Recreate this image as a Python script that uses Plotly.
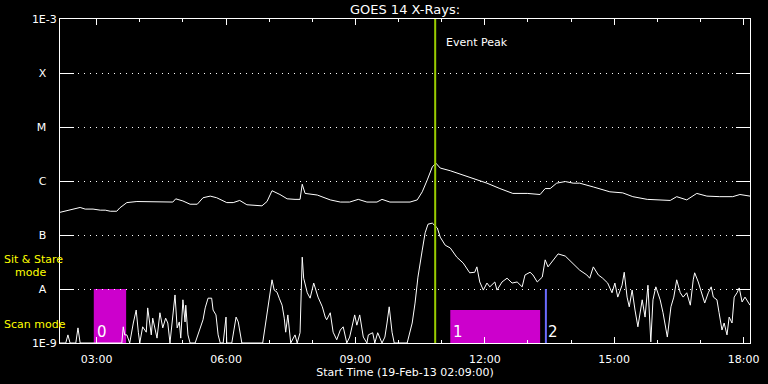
import pandas as pd
import plotly.graph_objects as go

# ---------------- data ----------------
start_time = "2013-02-19 02:09:00"
end_time = "2013-02-19 18:09:00"

# GOES-14 long channel (1-8 A), minutes after start, log10 flux (W/m^2)
long_min = [0, 11, 28, 35, 46, 56, 63, 70, 79, 83, 93, 107, 125, 139, 157, 161, 171, 181, 191, 199,
            209, 218, 232, 241, 250, 260, 271, 281, 288, 295, 306, 316, 327, 334, 337, 341, 358, 376, 390, 403,
            415, 427, 441, 448, 459, 473, 487, 497, 504, 511, 518, 523, 529, 543, 561, 580, 594, 612, 630, 650,
            668, 675, 682, 691, 703, 714, 723, 742, 765, 783, 797, 817, 835, 849, 858, 872, 886, 900, 918, 936,
            946, 960]
long_log = [-6.58, -6.55, -6.49, -6.52, -6.52, -6.54, -6.54, -6.56, -6.56, -6.50, -6.40, -6.38, -6.38, -6.39,
            -6.39, -6.33, -6.37, -6.43, -6.43, -6.31, -6.28, -6.31, -6.40, -6.40, -6.36, -6.44, -6.45, -6.46,
            -6.38, -6.18, -6.25, -6.33, -6.34, -6.34, -6.06, -6.23, -6.26, -6.35, -6.39, -6.39, -6.34, -6.39,
            -6.39, -6.34, -6.39, -6.39, -6.39, -6.35, -6.20, -5.98, -5.74, -5.67, -5.76, -5.81, -5.89, -5.97,
            -6.04, -6.14, -6.23, -6.23, -6.25, -6.14, -6.14, -6.04, -6.01, -6.04, -6.04, -6.11, -6.20, -6.22,
            -6.29, -6.34, -6.35, -6.36, -6.29, -6.35, -6.23, -6.28, -6.29, -6.29, -6.25, -6.28]

# GOES-14 short channel (0.5-4 A), minutes after start, log10 flux (W/m^2)
short_min = [0, 8, 11, 14, 22, 25, 28, 86, 88, 90, 93, 97, 102, 106, 109, 111, 115, 120, 122, 127,
             129, 135, 139, 143, 147, 150, 153, 157, 160, 163, 166, 168, 171, 174, 175, 178, 181, 188, 195, 199,
             202, 206, 211, 213, 217, 220, 223, 227, 231, 232, 239, 245, 248, 253, 282, 288, 291, 295, 298, 302,
             305, 309, 312, 314, 317, 321, 327, 330, 334, 337, 339, 344, 348, 353, 359, 365, 369, 371, 376, 380,
             385, 390, 394, 399, 403, 410, 413, 417, 422, 427, 429, 435, 438, 442, 448, 452, 455, 458, 462, 465,
             483, 484, 490, 494, 498, 504, 508, 512, 518, 525, 529, 536, 543, 552, 561, 570, 577, 580, 584, 589,
             594, 598, 605, 608, 615, 622, 629, 636, 643, 647, 654, 658, 664, 671, 675, 679, 686, 693, 703, 712,
             719, 723, 733, 737, 742, 749, 755, 762, 768, 772, 776, 782, 785, 789, 792, 796, 800, 804, 810, 814,
             818, 822, 825, 829, 835, 839, 845, 850, 854, 858, 863, 867, 872, 877, 881, 883, 888, 893, 897, 902,
             906, 909, 914, 917, 921, 924, 928, 931, 935, 938, 942, 945, 949, 953, 960]
short_log = [-9.0, -9.0, -8.85, -9.0, -9.0, -8.72, -9.0, -9.0, -8.70, -8.85, -8.85, -9.0, -8.63, -8.39, -8.80,
             -9.0, -8.70, -8.80, -8.35, -8.85, -8.54, -8.91, -8.44, -8.72, -8.54, -8.63, -9.0, -8.44, -8.11,
             -8.72, -8.61, -8.91, -8.20, -8.61, -8.30, -8.85, -9.0, -9.0, -8.72, -8.57, -8.35, -8.17, -8.17,
             -8.39, -8.48, -8.85, -9.0, -9.0, -8.52, -9.0, -9.0, -8.52, -8.61, -9.0, -9.0, -8.43, -8.11, -7.83,
             -8.02, -8.06, -8.17, -8.30, -8.54, -8.80, -8.48, -9.0, -8.85, -9.0, -8.81, -7.41, -7.80, -8.07,
             -8.17, -7.89, -8.15, -8.33, -8.52, -8.57, -8.44, -8.80, -8.94, -8.76, -8.70, -9.0, -8.89, -8.48,
             -8.67, -8.48, -8.89, -9.0, -8.85, -8.81, -9.0, -8.81, -9.0, -8.89, -8.63, -8.33, -8.80, -9.0,
             -9.0, -8.94, -8.63, -8.26, -7.78, -7.28, -6.96, -6.80, -6.78, -6.87, -7.04, -7.19, -7.24, -7.41,
             -7.52, -7.70, -7.69, -7.59, -7.87, -8.02, -7.89, -7.96, -7.87, -8.02, -7.87, -7.80, -7.89, -7.87,
             -7.96, -7.74, -7.69, -7.74, -7.87, -7.78, -7.46, -7.59, -7.46, -7.35, -7.39, -7.50, -7.59, -7.65,
             -7.74, -7.80, -7.59, -7.74, -7.80, -7.89, -8.07, -7.89, -8.15, -7.93, -7.69, -8.15, -8.33, -8.02,
             -8.39, -8.70, -8.20, -8.52, -7.93, -8.98, -8.20, -7.96, -8.20, -8.44, -8.89, -8.33, -8.15, -7.83,
             -8.07, -8.15, -8.07, -8.30, -7.83, -7.70, -7.87, -8.07, -8.26, -8.07, -7.96, -8.15, -8.20, -8.44,
             -8.76, -8.63, -8.85, -8.52, -8.63, -8.15, -8.07, -7.98, -8.24, -8.15, -8.30]

# y-axis ticks
y_tickvals = [1e-9, 1e-8, 1e-7, 1e-6, 1e-5, 1e-4, 1e-3]
y_ticktext = ["1E-9", "A", "B", "C", "M", "X", "1E-3"]

# event peak and observing-mode intervals
event_peak = "2013-02-19 10:51:00"
mode_labels = ["0", "1"]
mode_start = ["2013-02-19 02:56:00", "2013-02-19 11:12:00"]
mode_end = ["2013-02-19 03:41:00", "2013-02-19 13:17:00"]
mode_top = [1e-8, 4.1e-9]
mode2_label = "2"
mode2_time = "2013-02-19 13:25:00"
mode2_top = 1e-8

# ---------------- figure ----------------
t0 = pd.Timestamp(start_time)
t_long = t0 + pd.to_timedelta(long_min, unit="m")
t_short = t0 + pd.to_timedelta(short_min, unit="m")
f_long = [10 ** v for v in long_log]
f_short = [10 ** v for v in short_log]

FONT = "DejaVu Sans"
fig = go.Figure()
fig.add_trace(go.Scatter(x=t_long, y=f_long, mode="lines",
                         line=dict(color="white", width=1), showlegend=False, hoverinfo="skip"))
fig.add_trace(go.Scatter(x=t_short, y=f_short, mode="lines",
                         line=dict(color="white", width=1), showlegend=False, hoverinfo="skip"))

shapes = []
annotations = []
for lab, s, e, top in zip(mode_labels, mode_start, mode_end, mode_top):
    shapes.append(dict(type="rect", xref="x", yref="y", x0=s, x1=e, y0=1e-9, y1=top,
                       fillcolor="#cc00cc", line=dict(width=0), layer="below"))
    annotations.append(dict(x=s, y=0, xref="x", yref="paper", text=lab, showarrow=False,
                            xanchor="left", yanchor="bottom", xshift=1, yshift=0,
                            font=dict(family=FONT, size=15, color="white")))
shapes.append(dict(type="line", xref="x", yref="y", x0=mode2_time, x1=mode2_time,
                   y0=1e-9, y1=mode2_top, line=dict(color="#6b6bff", width=2)))
annotations.append(dict(x=mode2_time, y=0, xref="x", yref="paper", text=mode2_label,
                        showarrow=False, xanchor="left", yanchor="bottom", xshift=0,
                        font=dict(family=FONT, size=15, color="white")))
shapes.append(dict(type="line", xref="x", yref="paper", x0=event_peak, x1=event_peak,
                   y0=0, y1=1, line=dict(color="#9acd00", width=2)))
annotations.append(dict(x=event_peak, y=0.926, xref="x", yref="paper", text="Event Peak",
                        showarrow=False, xanchor="left", yanchor="middle", xshift=9,
                        font=dict(family=FONT, size=11, color="white")))

# side labels (yellow)
def px_x(px):
    return (px - 60) / 690.0

def px_y(py):
    return (343 - py) / 324.0

for txt, lx, ly in [("Sit & Stare", 2, 259), ("mode", 13, 272), ("Scan mode", 2, 324)]:
    annotations.append(dict(x=px_x(lx), y=px_y(ly), xref="paper", yref="paper", text=txt,
                            showarrow=False, xanchor="left", yanchor="middle",
                            font=dict(family=FONT, size=11, color="#ffff00")))

pad = "\u00a0\u00a0\u00a0"
ytext = [t if t.startswith("1E") else t + pad for t in y_ticktext]

fig.update_layout(
    width=768, height=384,
    margin=dict(l=60, r=18, t=19, b=41, autoexpand=False),
    paper_bgcolor="black", plot_bgcolor="black",
    font=dict(family=FONT, size=11, color="white"),
    title=dict(text="GOES 14 X-Rays:", x=0.5, xref="paper", y=1 - 9 / 384, yref="container",
               xanchor="center", yanchor="middle", automargin=False,
               font=dict(family=FONT, size=13, color="white")),
    shapes=shapes, annotations=annotations,
    showlegend=False,
)
fig.update_xaxes(
    type="date", range=[start_time, end_time], automargin=False,
    tickformat="%H:%M", dtick=3 * 3600000, tick0="2013-02-19 00:00:00",
    ticks="inside", ticklen=6, tickcolor="white", tickwidth=1,
    minor=dict(dtick=3600000, ticks="inside", ticklen=3, tickcolor="white", showgrid=False),
    showline=True, linecolor="white", linewidth=1, mirror="allticks",
    showgrid=False, zeroline=False, ticklabelstandoff=6,
    tickfont=dict(family=FONT, size=11, color="white"),
    title=dict(text="Start Time (19-Feb-13 02:09:00)", standoff=2,
               font=dict(family=FONT, size=11, color="white")),
)
fig.update_yaxes(
    type="log", range=[-9, -3], automargin=False,
    tickvals=y_tickvals, ticktext=ytext,
    ticks="inside", ticklen=14, tickcolor="white", tickwidth=1,
    showline=True, linecolor="white", linewidth=1, mirror="allticks",
    showgrid=True, gridcolor="white", gridwidth=1, griddash="1px,5px",
    zeroline=False,
    tickfont=dict(family=FONT, size=11, color="white"),
)

fig.write_html("out.html", config={"displayModeBar": False},
               post_script="document.body.style.margin='0px';document.body.style.background='black';")
